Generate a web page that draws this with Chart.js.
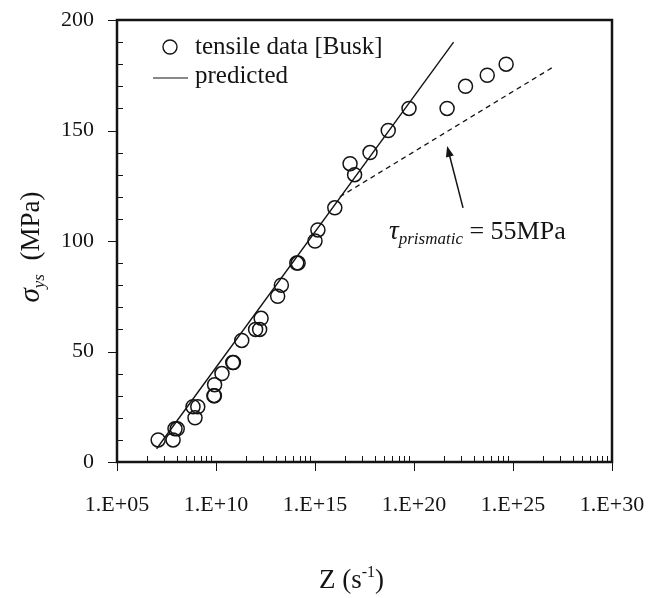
<!DOCTYPE html>
<html>
<head>
<meta charset="utf-8">
<script src="https://cdn.jsdelivr.net/npm/chart.js@4.4.1/dist/chart.umd.min.js"></script>
<style>
html,body{margin:0;padding:0;background:#fff;}
#wrap{width:667px;height:598px;position:relative;}
</style>
</head>
<body>
<div id="wrap"><canvas id="c" width="667" height="598"></canvas></div>
<script>
// ---- data ----
const tensileLabel = 'tensile data [Busk]';
const tensileZ = [1.2e7, 6.8e7, 8.5e7, 1.1e8, 8.7e8, 6.9e8, 1.2e9, 7.8e9, 8.3e9, 8.5e9, 2.0e10,
  7.0e10, 7.6e10, 2.0e11, 1.0e12, 1.6e12, 1.9e12, 1.3e13, 2.0e13, 1.2e14, 1.4e14,
  1.0e15, 1.4e15, 1.0e16, 5.9e16, 1.0e17, 6.0e17, 5.0e18, 5.6e19, 4.7e21, 4.0e22, 5.0e23, 4.5e24];
const tensileStress = [10, 10, 15, 15, 20, 25, 25, 30, 30, 35, 40,
  45, 45, 55, 60, 60, 65, 75, 80, 90, 90,
  100, 105, 115, 135, 130, 140, 150, 160, 160, 170, 175, 180];

const predictedLabel = 'predicted';
const predictedZ = [1.0e7, 1.0e22];
const predictedStress = [6, 190];

const prismaticZ = [1.8e16, 1.2e27];
const prismaticStress = [120, 179];

const xTickValues = [1e5, 1e10, 1e15, 1e20, 1e25, 1e30];
const xTickLabels = ['1.E+05', '1.E+10', '1.E+15', '1.E+20', '1.E+25', '1.E+30'];
const yTickValues = [0, 50, 100, 150, 200];
const yTickLabels = ['0', '50', '100', '150', '200'];
const yMinorStep = 10;

const annotationZ = 5.5e18, annotationStress = 101;
const arrowTailZ = 3.0e22, arrowTailStress = 115;
const arrowTipZ = 4.7e21, arrowTipStress = 143;

// ---- chart ----
const FONT = '"Liberation Serif", "Times New Roman", serif';
const INK = '#141414';

function toPoints(xs, ys) { return xs.map((v, i) => ({x: v, y: ys[i]})); }

const decor = {
  id: 'decor',
  afterDatasetsDraw(chart) {
    const {ctx, chartArea: a, scales: {x, y}} = chart;
    ctx.save();
    ctx.strokeStyle = INK; ctx.fillStyle = INK;
    // frame
    ctx.lineWidth = 2.5;
    ctx.strokeRect(a.left, a.top, a.right - a.left, a.bottom - a.top);
    // y ticks
    ctx.lineWidth = 1;
    const yMin = yTickValues[0], yMax = yTickValues[yTickValues.length - 1];
    for (let v = yMin; v <= yMax; v += yMinorStep) {
      const py = Math.round(y.getPixelForValue(v)) + 0.5;
      ctx.beginPath();
      if (yTickValues.includes(v)) { ctx.moveTo(a.left - 9, py); ctx.lineTo(a.left, py); }
      else { ctx.moveTo(a.left, py); ctx.lineTo(a.left + 6, py); }
      ctx.stroke();
    }
    // x ticks
    for (let i = 0; i < xTickValues.length; i++) {
      const v = xTickValues[i];
      const px = Math.round(x.getPixelForValue(v)) + 0.5;
      ctx.beginPath(); ctx.moveTo(px, a.bottom); ctx.lineTo(px, a.bottom + 9); ctx.stroke();
      if (i < xTickValues.length - 1) {
        const lo = Math.log10(v), hi = Math.log10(xTickValues[i + 1]);
        for (let n = 2; n <= 9; n++) {
          const mv = Math.pow(10, lo + (hi - lo) * Math.log10(n));
          const mx = Math.round(x.getPixelForValue(mv)) + 0.5;
          ctx.beginPath(); ctx.moveTo(mx, a.bottom); ctx.lineTo(mx, a.bottom - 6); ctx.stroke();
        }
      }
    }
    // legend
    ctx.textBaseline = 'middle'; ctx.textAlign = 'left';
    ctx.font = '25px ' + FONT;
    ctx.lineWidth = 1.4;
    ctx.beginPath(); ctx.arc(a.left + 53, a.top + 27, 7, 0, Math.PI * 2); ctx.stroke();
    ctx.fillText(chart.data.datasets[0].label, a.left + 78, a.top + 27);
    ctx.lineWidth = 1.2;
    ctx.beginPath(); ctx.moveTo(a.left + 36, a.top + 58); ctx.lineTo(a.left + 71, a.top + 58); ctx.stroke();
    ctx.fillText(chart.data.datasets[1].label, a.left + 78, a.top + 56);

    // annotation text
    ctx.textBaseline = 'alphabetic';
    let ax = x.getPixelForValue(annotationZ), ay = y.getPixelForValue(annotationStress);
    ctx.font = 'italic 27px ' + FONT;
    ctx.fillText('\u03C4', ax, ay);
    ax += ctx.measureText('\u03C4').width;
    ctx.font = 'italic 17px ' + FONT;
    ctx.fillText('prismatic', ax, ay + 5);
    ax += ctx.measureText('prismatic').width;
    ctx.font = '26px ' + FONT;
    ctx.fillText(' = 55MPa', ax, ay);

    // arrow
    const tx = x.getPixelForValue(arrowTipZ), ty = y.getPixelForValue(arrowTipStress);
    const sx = x.getPixelForValue(arrowTailZ), sy = y.getPixelForValue(arrowTailStress);
    const ang = Math.atan2(ty - sy, tx - sx);
    const hl = 11, hw = 4;
    ctx.lineWidth = 1.5;
    ctx.beginPath(); ctx.moveTo(sx, sy);
    ctx.lineTo(tx - Math.cos(ang) * hl * 0.8, ty - Math.sin(ang) * hl * 0.8); ctx.stroke();
    ctx.beginPath();
    ctx.moveTo(tx, ty);
    ctx.lineTo(tx - Math.cos(ang) * hl - Math.sin(ang) * hw, ty - Math.sin(ang) * hl + Math.cos(ang) * hw);
    ctx.lineTo(tx - Math.cos(ang) * hl + Math.sin(ang) * hw, ty - Math.sin(ang) * hl - Math.cos(ang) * hw);
    ctx.closePath(); ctx.fill();

    // x axis title: Z (s^-1)
    ctx.textBaseline = 'alphabetic';
    const xt = [['Z (s', '27px ', 0], ['-1', '16px ', -11], [')', '27px ', 0]];
    let w = 0;
    xt.forEach(p => { ctx.font = p[1] + FONT; w += ctx.measureText(p[0]).width; });
    let cx = (a.left + a.right) / 2 - 13 - w / 2;
    xt.forEach(p => { ctx.font = p[1] + FONT; ctx.fillText(p[0], cx, 588 + p[2]); cx += ctx.measureText(p[0]).width; });

    // y axis title: sigma_ys (MPa)
    ctx.save();
    ctx.translate(39, (a.top + a.bottom) / 2 + 6);
    ctx.rotate(-Math.PI / 2);
    const yt = [['\u03C3', 'italic 29px ', 0], ['ys', 'italic 17px ', 5], ['  (MPa)', '27px ', 0]];
    w = 0;
    yt.forEach(p => { ctx.font = p[1] + FONT; w += ctx.measureText(p[0]).width; });
    let cy = -w / 2;
    yt.forEach(p => { ctx.font = p[1] + FONT; ctx.fillText(p[0], cy, p[2]); cy += ctx.measureText(p[0]).width; });
    ctx.restore();

    ctx.restore();
  }
};

new Chart(document.getElementById('c'), {
  type: 'scatter',
  data: {
    datasets: [
      {
        label: tensileLabel,
        data: toPoints(tensileZ, tensileStress),
        showLine: false,
        pointStyle: 'circle',
        pointRadius: 7,
        pointBorderWidth: 1.5,
        pointBorderColor: INK,
        pointBackgroundColor: 'rgba(0,0,0,0)'
      },
      {
        label: predictedLabel,
        data: toPoints(predictedZ, predictedStress),
        showLine: true,
        pointRadius: 0,
        borderColor: INK,
        borderWidth: 1.4
      },
      {
        label: 'prismatic',
        data: toPoints(prismaticZ, prismaticStress),
        showLine: true,
        pointRadius: 0,
        borderColor: INK,
        borderWidth: 1.3,
        borderDash: [5, 4]
      }
    ]
  },
  options: {
    responsive: false,
    animation: false,
    devicePixelRatio: 1,
    layout: {padding: {top: 20, right: 55, left: 0, bottom: 0}},
    plugins: {legend: {display: false}, tooltip: {enabled: false}},
    scales: {
      x: {
        type: 'logarithmic',
        position: 'bottom',
        min: xTickValues[0],
        max: xTickValues[xTickValues.length - 1],
        grid: {display: false, drawTicks: false},
        border: {display: false},
        afterBuildTicks: s => { s.ticks = xTickValues.map(v => ({value: v})); },
        afterFit: s => { s.height = 136; s.paddingLeft = 0; s.paddingRight = 0; },
        ticks: {
          autoSkip: false, maxRotation: 0, padding: 30, color: INK,
          font: {family: FONT, size: 22},
          callback: (v, i) => xTickLabels[i]
        }
      },
      y: {
        type: 'linear',
        min: yTickValues[0],
        max: yTickValues[yTickValues.length - 1],
        grid: {display: false, drawTicks: false},
        border: {display: false},
        afterBuildTicks: s => { s.ticks = yTickValues.map(v => ({value: v})); },
        afterFit: s => { s.width = 117; s.paddingTop = 0; s.paddingBottom = 0; },
        ticks: {
          padding: 23, color: INK,
          font: {family: FONT, size: 22},
          callback: (v, i) => yTickLabels[i]
        }
      }
    }
  },
  plugins: [decor]
});
</script>
</body>
</html>
